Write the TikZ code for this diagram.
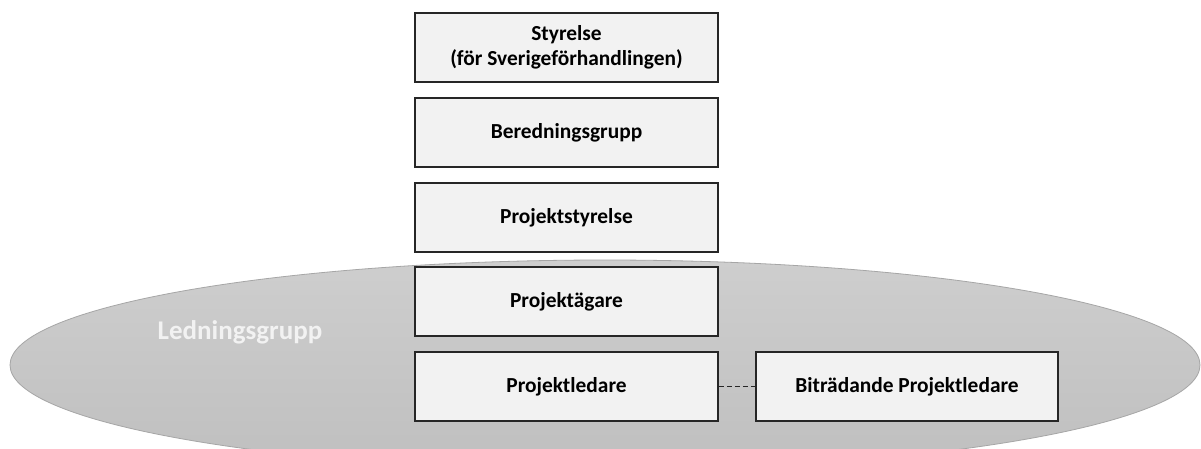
\documentclass[tikz,border=0pt]{standalone}
\usepackage{fontspec}
\setmainfont{Carlito}
\definecolor{boxfill}{HTML}{F2F2F2}
\definecolor{boxline}{HTML}{262626}
\definecolor{elltop}{HTML}{CECECE}
\definecolor{ellbot}{HTML}{BFBFBF}
\definecolor{ellline}{HTML}{A6A6A6}
\begin{document}
\begin{tikzpicture}[x=1pt,y=-1pt,
  orgbox/.style={draw=boxline, line width=1.5pt, fill=boxfill, minimum width=303pt, minimum height=69pt, inner sep=0pt, align=center, font=\fontsize{21.4}{25.5}\selectfont\bfseries, text=black},
  grouplabel/.style={font=\fontsize{27}{30}\selectfont\bfseries, text=boxfill}]
\useasboundingbox (0,0) rectangle (1201,448);
\clip (0,0) rectangle (1201,448);
\fill[white] (0,0) rectangle (1201,448);
\shade[top color=elltop, bottom color=ellbot, draw=ellline, line width=0.8pt] (605,365) ellipse [x radius=595, y radius=105];
\node[grouplabel] (lg) at (240,332) {Ledningsgrupp};
\node[orgbox] (styr) at (566.5,47.5) {Styrelse\\(för Sverigeförhandlingen)};
\node[orgbox] (bered) at (566.5,132.5) {Beredningsgrupp};
\node[orgbox] (pstyr) at (566.5,217.5) {Projektstyrelse};
\node[orgbox] (pag) at (566.5,301.5) {Projektägare};
\node[orgbox] (pl) at (566.5,386.5) {Projektledare};
\node[orgbox, minimum width=302pt] (bpl) at (907,386.5) {Biträdande Projektledare};
\draw[boxline, dash pattern=on 5pt off 3pt, line width=1pt] (pl.east) -- (bpl.west);
\end{tikzpicture}
\end{document}
